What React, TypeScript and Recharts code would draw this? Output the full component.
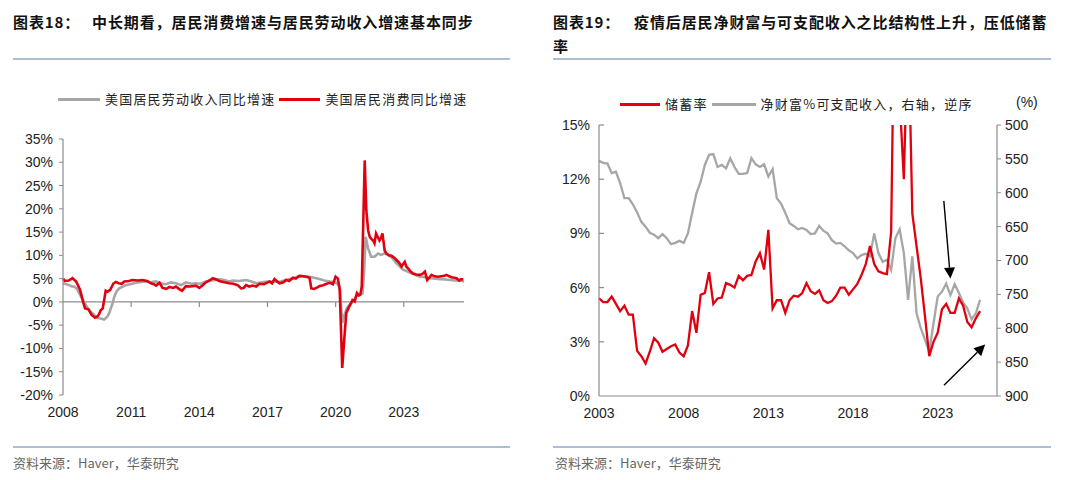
import { LineChart, Line, XAxis, YAxis, ReferenceLine } from 'recharts';

// ---- 图表18: consumption vs labor income growth (yoy, %) ----
const consumptionDates = [
  2008.0, 2008.08, 2008.25, 2008.42, 2008.58, 2008.75, 2008.88, 2008.97, 2009.12, 2009.26,
  2009.41, 2009.5, 2009.58, 2009.66, 2009.75, 2009.88, 2009.96, 2010.08, 2010.21, 2010.32,
  2010.45, 2010.58, 2010.7, 2010.9, 2011.06, 2011.3, 2011.5, 2011.7, 2011.87, 2012.0,
  2012.1, 2012.25, 2012.38, 2012.55, 2012.68, 2012.85, 2012.97, 2013.1, 2013.24, 2013.41,
  2013.6, 2013.85, 2014.0, 2014.15, 2014.29, 2014.45, 2014.59, 2014.75, 2014.88, 2015.05,
  2015.32, 2015.5, 2015.69, 2015.84, 2015.95, 2016.06, 2016.2, 2016.35, 2016.5, 2016.65,
  2016.85, 2017.09, 2017.2, 2017.31, 2017.45, 2017.53, 2017.7, 2017.82, 2017.95, 2018.12,
  2018.25, 2018.41, 2018.55, 2018.71, 2018.85, 2018.93, 2019.05, 2019.15, 2019.3, 2019.45,
  2019.6, 2019.75, 2019.88, 2020.0, 2020.1, 2020.18, 2020.29, 2020.4, 2020.47, 2020.55,
  2020.62, 2020.74, 2020.84, 2020.94, 2021.02, 2021.09, 2021.15, 2021.28, 2021.35, 2021.43,
  2021.5, 2021.56, 2021.65, 2021.71, 2021.78, 2021.85, 2021.93, 2022.0, 2022.06, 2022.16,
  2022.24, 2022.35, 2022.46, 2022.58, 2022.68, 2022.8, 2022.9, 2023.04, 2023.12, 2023.19,
  2023.3, 2023.41, 2023.55, 2023.71, 2023.82, 2023.93, 2024.03, 2024.12, 2024.22, 2024.35,
  2024.51, 2024.65, 2024.78, 2024.88, 2025.0, 2025.1, 2025.22, 2025.32, 2025.44, 2025.53,
  2025.62,
];
const consumptionGrowth = [
  5.0, 4.5, 4.6, 5.1, 4.4, 2.6, 0.1, -1.4, -1.6, -2.8,
  -3.4, -3.2, -2.7, -1.8, -1.4, 2.4, 2.2, 2.6, 3.9, 4.3,
  4.0, 3.9, 4.4, 4.5, 4.7, 4.6, 4.7, 4.5, 4.0, 3.8,
  3.5, 4.1, 3.0, 2.8, 3.2, 3.0, 3.3, 2.8, 2.4, 3.4,
  3.3, 3.5, 3.0, 3.6, 4.2, 4.6, 5.1, 4.8, 4.5, 4.3,
  4.0, 3.9, 3.6, 2.9, 3.0, 3.6, 3.3, 3.5, 3.3, 3.9,
  3.8, 4.4, 4.0, 4.9, 4.3, 4.0, 4.2, 4.7, 4.5, 5.2,
  5.0, 5.6, 5.5, 5.4, 5.2, 2.9, 2.8, 3.0, 3.4, 3.6,
  3.9, 4.1, 3.8, 5.4, 5.0, 2.6, -14.2, -6.7, -2.4, -1.5,
  -0.8, 0.4, 0.1, 1.9, 1.4, 1.6, 3.3, 30.4, 19.7, 15.4,
  14.0, 13.6, 13.2, 12.6, 14.7, 14.0, 13.2, 13.8, 14.7, 11.0,
  10.4, 10.0, 9.9, 9.5, 9.0, 8.4, 7.6, 8.6, 7.5, 7.2,
  6.5, 6.1, 5.9, 5.8, 6.0, 6.5, 4.7, 5.2, 5.8, 5.5,
  5.4, 5.5, 5.6, 5.8, 5.5, 5.3, 5.2, 5.1, 4.6, 4.9,
  4.8,
];
const laborDates = [
  2008.0, 2008.15, 2008.26, 2008.4, 2008.49, 2008.6, 2008.68, 2008.85, 2008.95, 2009.07,
  2009.2, 2009.37, 2009.5, 2009.59, 2009.7, 2009.81, 2009.9, 2009.96, 2010.05, 2010.1,
  2010.18, 2010.25, 2010.35, 2010.47, 2010.6, 2010.76, 2010.95, 2011.21, 2011.45, 2011.65,
  2011.85, 2012.09, 2012.3, 2012.53, 2012.75, 2012.97, 2013.2, 2013.41, 2013.65, 2013.85,
  2014.05, 2014.29, 2014.55, 2014.88, 2015.1, 2015.3, 2015.47, 2015.75, 2016.06, 2016.3,
  2016.5, 2016.65, 2016.9, 2017.24, 2017.5, 2017.82, 2018.1, 2018.41, 2018.6, 2018.85,
  2019.05, 2019.29, 2019.5, 2019.74, 2019.9, 2020.03, 2020.18, 2020.29, 2020.4, 2020.5,
  2020.62, 2020.75, 2020.9, 2021.05, 2021.18, 2021.25, 2021.32, 2021.43, 2021.56, 2021.71,
  2021.87, 2022.0, 2022.16, 2022.31, 2022.5, 2022.68, 2022.85, 2022.97, 2023.1, 2023.26,
  2023.5, 2023.71, 2023.95, 2024.15, 2024.4, 2024.6, 2024.85, 2025.03, 2025.25, 2025.47,
  2025.65,
];
const laborGrowth = [
  4.0, 3.8, 3.6, 3.3, 3.3, 2.9, 2.2, 0.6, -0.2, -1.2,
  -2.0, -2.8, -3.3, -3.5, -3.6, -3.8, -3.4, -3.1, -2.2, -1.4,
  -0.4, 1.0, 2.2, 2.9, 3.2, 3.6, 3.8, 4.1, 4.3, 4.4,
  4.2, 4.4, 4.0, 3.8, 4.2, 4.0, 3.6, 4.2, 3.9, 4.0,
  3.9, 4.4, 4.6, 4.9, 4.7, 4.4, 4.6, 4.5, 4.7, 4.4,
  4.0, 4.1, 4.3, 4.4, 4.3, 4.7, 5.0, 5.6, 5.5, 5.4,
  5.2, 4.9, 4.6, 4.4, 4.2, 4.1, 3.3, -4.5, -2.6, -1.3,
  -0.6, 0.0, 1.2, 1.4, 1.8, 6.0, 14.0, 11.5, 9.7, 9.7,
  10.4, 10.1, 10.4, 10.1, 9.4, 8.3, 7.5, 6.9, 6.7, 6.3,
  5.8, 5.4, 5.3, 5.1, 5.0, 4.9, 4.8, 4.7, 4.6, 4.6,
  4.4,
];
const leftYTicks = [-20, -15, -10, -5, 0, 5, 10, 15, 20, 25, 30, 35];
const leftXTicks = [2008, 2011, 2014, 2017, 2020, 2023];

// ---- 图表19: saving rate vs net wealth / disposable income (quarterly) ----
const savingRate = [
  5.4, 5.2, 5.2, 5.5, 5.1, 4.7, 5.0, 4.5, 4.5, 2.5,
  2.2, 1.8, 2.45, 3.2, 2.95, 2.45, 2.6, 2.75, 2.85, 2.4,
  2.2, 2.8, 4.7, 3.5, 5.6, 5.7, 6.85, 5.1, 5.4, 5.45,
  6.25, 6.15, 6.0, 6.65, 6.4, 6.65, 6.7, 7.45, 7.9, 7.0,
  9.2, 4.85, 5.3, 5.3, 4.6, 5.3, 5.55, 5.5, 5.7, 6.25,
  5.8, 5.65, 5.85, 5.3, 5.15, 5.25, 5.55, 6.0, 6.0, 5.6,
  5.9, 6.2, 6.7, 7.3, 8.3, 7.3, 6.9, 6.8, 6.75, 9.1,
  26.0, 16.5, 12.0, 21.0, 10.1, 8.3, 6.5, 4.4, 2.2, 3.0,
  3.5, 4.8, 5.1, 4.6, 4.6, 5.4, 5.0, 4.1, 3.8, 4.3,
  4.7,
];
const wealthToIncome = [
  553, 556, 557, 571, 569, 586, 608, 608, 617, 629,
  643, 650, 659, 662, 667, 661, 667, 676, 674, 671,
  674, 660, 630, 601, 584, 559, 544, 543, 562, 559,
  564, 549, 562, 572, 572, 571, 549, 558, 562, 558,
  576, 565, 608, 616, 630, 645, 649, 654, 652, 655,
  661, 660, 649, 656, 660, 670, 675, 674, 679, 685,
  689, 697, 692, 690, 694, 660, 689, 702, 699, 714,
  667, 654, 689, 758, 694, 778, 800, 817, 835, 793,
  753, 746, 734, 751, 735, 748, 762, 771, 787, 778,
  758,
];
const quarterDates = savingRate.map((_, i) => 2003 + i / 4);
const rightYTicks = [0, 3, 6, 9, 12, 15];
const rightY2Ticks = [500, 550, 600, 650, 700, 750, 800, 850, 900];
const rightXTicks = [2003, 2008, 2013, 2018, 2023];
// annotation arrows, in (year, saving rate %) units
const arrowDown = [{ x: 2023.36, y: 10.8 }, { x: 2023.75, y: 6.5 }];
const arrowUp = [{ x: 2023.37, y: 0.6 }, { x: 2025.8, y: 2.85 }];

const RED = '#E0000F';
const GRAY = '#A6A6A6';
const AXIS = '#8C8C8C';
const RULE = '#A9BFD6';
const latin = '"Liberation Sans", Arial, sans-serif';
const cjk = '"Noto Sans CJK SC", "Liberation Sans", sans-serif';

const consumptionRows = consumptionDates.map((x, i) => ({ x, v: consumptionGrowth[i] }));
const laborRows = laborDates.map((x, i) => ({ x, v: laborGrowth[i] }));
const rightRows = quarterDates.map((x, i) => ({ x, saving: savingRate[i], wealth: wealthToIncome[i] }));

const tickStyle = { fill: '#222', fontSize: 14, fontFamily: latin };

const Arrow = (props: any) => {
  const { x1, y1, x2, y2 } = props;
  const a = Math.atan2(y2 - y1, x2 - x1);
  const len = 11;
  const half = 5.5;
  const bx = x2 - len * Math.cos(a);
  const by = y2 - len * Math.sin(a);
  const p1 = `${bx + half * Math.sin(a)},${by - half * Math.cos(a)}`;
  const p2 = `${bx - half * Math.sin(a)},${by + half * Math.cos(a)}`;
  return (
    <g>
      <line x1={x1} y1={y1} x2={bx} y2={by} stroke="#000" strokeWidth={1.4} />
      <polygon points={`${x2},${y2} ${p1} ${p2}`} fill="#000" />
    </g>
  );
};

function Swatch({ color, label, width }: { color: string; label: string; width: number }) {
  return (
    <span style={{ display: 'inline-flex', alignItems: 'center' }}>
      <span style={{ display: 'inline-block', width, height: 3, background: color, marginRight: 5 }} />
      <span style={{ marginRight: 4 }}>{label}</span>
    </span>
  );
}

export default function App() {
  const titleStyle: React.CSSProperties = {
    position: 'absolute', fontFamily: cjk, fontWeight: 700, fontSize: 15,
    letterSpacing: 0.9, color: '#111', whiteSpace: 'nowrap', lineHeight: '18px',
  };
  const legendStyle: React.CSSProperties = {
    position: 'absolute', fontFamily: cjk, fontSize: 13, letterSpacing: 1.2,
    color: '#222', whiteSpace: 'nowrap', display: 'flex', alignItems: 'center', lineHeight: '16px',
  };
  const sourceStyle: React.CSSProperties = {
    position: 'absolute', fontFamily: cjk, fontSize: 13, color: '#666', whiteSpace: 'nowrap', top: 453,
  };
  const rule = (left: number, top: number, width: number): React.CSSProperties => ({
    position: 'absolute', left, top, width, height: 2, background: RULE,
  });

  return (
    <div style={{ position: 'absolute', left: 0, top: 0, width: 1080, height: 480, background: '#fff', overflow: 'hidden' }}>
      {/* titles */}
      <div style={{ ...titleStyle, left: 13, top: 13 }}>图表18：</div>
      <div style={{ ...titleStyle, left: 92, top: 13 }}>中长期看，居民消费增速与居民劳动收入增速基本同步</div>
      <div style={{ ...titleStyle, left: 553, top: 13 }}>图表19：</div>
      <div style={{ ...titleStyle, left: 634, top: 13 }}>疫情后居民净财富与可支配收入之比结构性上升，压低储蓄</div>
      <div style={{ ...titleStyle, left: 553, top: 37 }}>率</div>
      <div style={rule(13, 58, 497)} />
      <div style={rule(553, 58, 498)} />

      {/* legends */}
      <div style={{ ...legendStyle, left: 58, top: 91 }}>
        <Swatch color={GRAY} label="美国居民劳动收入同比增速" width={42} />
        <Swatch color={RED} label="美国居民消费同比增速" width={41} />
      </div>
      <div style={{ ...legendStyle, left: 620, top: 96 }}>
        <Swatch color={RED} label="储蓄率" width={40} />
        <Swatch color={GRAY} label="净财富%可支配收入，右轴，逆序" width={44} />
      </div>
      <div style={{ position: 'absolute', left: 1016, top: 94, fontFamily: latin, fontSize: 14, color: '#222' }}>(%)</div>

      {/* left chart */}
      <div style={{ position: 'absolute', left: 0, top: 120 }}>
        <LineChart width={540} height={310} margin={{ top: 19, right: 76, bottom: 5, left: 0 }}>
          <XAxis
            dataKey="x" type="number" domain={[2008, 2025.65]} ticks={leftXTicks} interval={0}
            axisLine={false} tickLine={false} tickSize={6} tickMargin={6} height={30}
            tick={tickStyle} allowDuplicatedCategory={false}
          />
          <YAxis
            domain={[-20, 35]} ticks={leftYTicks} interval={0} width={63}
            tickFormatter={(v) => `${v}%`} tick={tickStyle}
            axisLine={{ stroke: AXIS, strokeWidth: 1.2 }} tickLine={{ stroke: AXIS }} tickSize={4} tickMargin={6}
          />
          <ReferenceLine y={0} stroke={AXIS} strokeWidth={1.2} />
          {leftXTicks.slice(1).map((t) => (
            <ReferenceLine key={t} segment={[{ x: t, y: 0 }, { x: t, y: -1.1 }]} stroke={AXIS} strokeWidth={1.2} />
          ))}
          <Line data={laborRows} dataKey="v" stroke={GRAY} strokeWidth={2.6} dot={false} isAnimationActive={false} />
          <Line data={consumptionRows} dataKey="v" stroke={RED} strokeWidth={2.6} dot={false} isAnimationActive={false} />
        </LineChart>
      </div>

      {/* right chart */}
      <div style={{ position: 'absolute', left: 540, top: 110 }}>
        <LineChart width={540} height={320} data={rightRows} margin={{ top: 15, right: 30, bottom: 5, left: 0 }}>
          <XAxis
            dataKey="x" type="number" domain={[2003, 2026.5]} ticks={rightXTicks} interval={0}
            axisLine={{ stroke: AXIS, strokeWidth: 1.2 }} tickLine={false} tickSize={6} tickMargin={6} height={29}
            tick={tickStyle}
          />
          <YAxis
            yAxisId="left" domain={[0, 15]} ticks={rightYTicks} interval={0} width={59} allowDataOverflow
            tickFormatter={(v) => `${v}%`} tick={tickStyle}
            axisLine={{ stroke: AXIS, strokeWidth: 1.2 }} tickLine={false} tickSize={0} tickMargin={9}
          />
          <YAxis
            yAxisId="right" orientation="right" reversed domain={[500, 900]} ticks={rightY2Ticks} interval={0}
            width={53} tick={tickStyle}
            axisLine={{ stroke: AXIS, strokeWidth: 1.2 }} tickLine={{ stroke: AXIS }} tickSize={4} tickMargin={4}
          />
          {rightYTicks.slice(1).map((t) => (
            <ReferenceLine key={t} yAxisId="left" segment={[{ x: 2003, y: t }, { x: 2003.3, y: t }]} stroke={AXIS} strokeWidth={1.2} />
          ))}
          <Line yAxisId="right" dataKey="wealth" stroke={GRAY} strokeWidth={2.3} dot={false} isAnimationActive={false} />
          <Line yAxisId="left" dataKey="saving" stroke={RED} strokeWidth={2.3} dot={false} isAnimationActive={false} />
          <ReferenceLine yAxisId="left" segment={arrowDown} shape={Arrow} ifOverflow="visible" />
          <ReferenceLine yAxisId="left" segment={arrowUp} shape={Arrow} ifOverflow="visible" />
        </LineChart>
      </div>

      {/* sources */}
      <div style={rule(13, 446, 497)} />
      <div style={rule(553, 446, 498)} />
      <div style={{ ...sourceStyle, left: 13 }}>资料来源：Haver，华泰研究</div>
      <div style={{ ...sourceStyle, left: 555 }}>资料来源：Haver，华泰研究</div>
    </div>
  );
}
